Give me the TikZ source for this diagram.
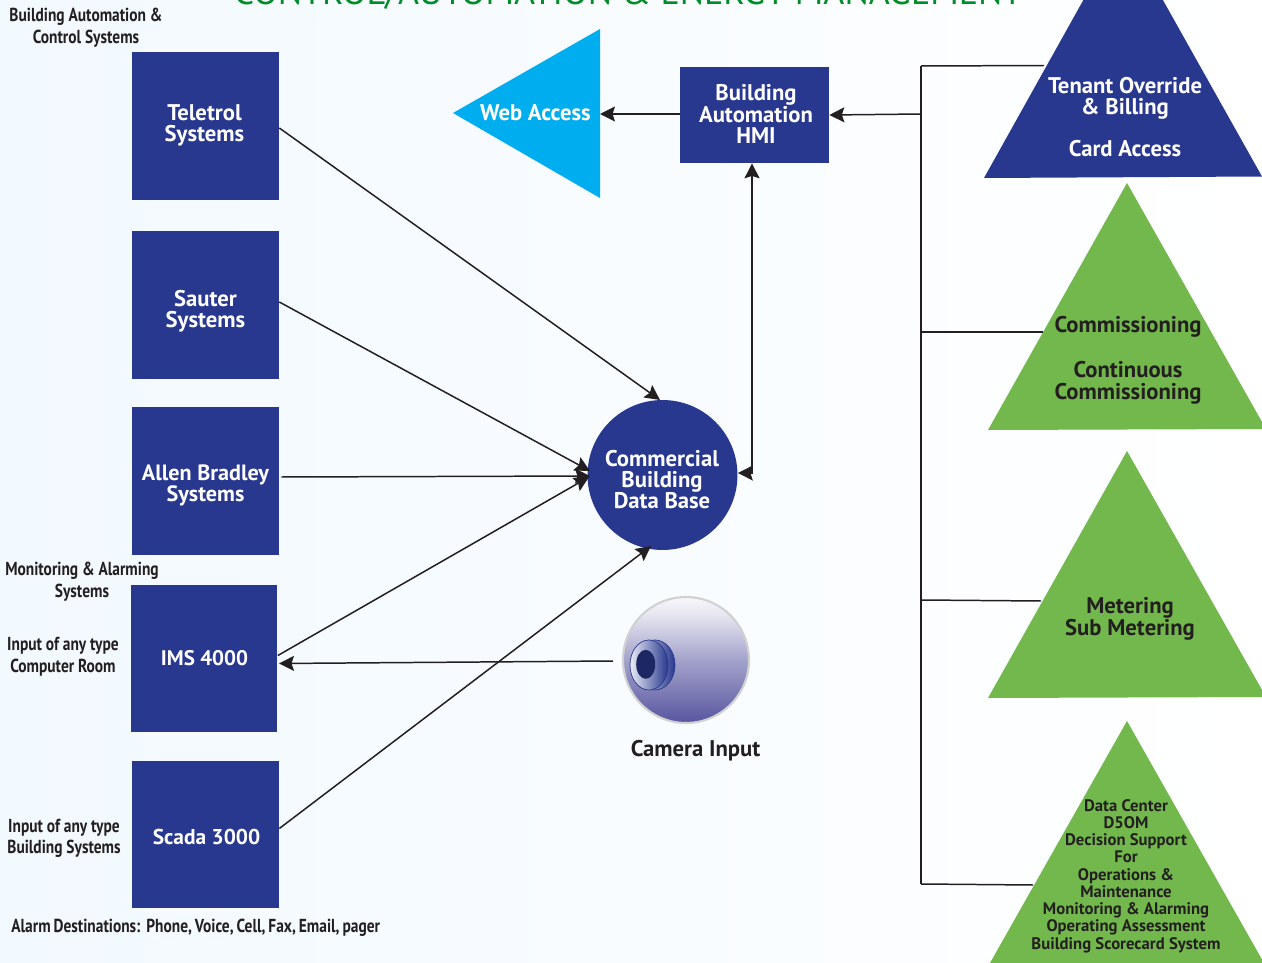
\documentclass[tikz,border=0pt]{standalone}
\usepackage{fontspec}
\setmainfont{PT Sans}
\newfontfamily\condfont[FakeStretch=0.82]{PT Sans}
\usetikzlibrary{arrows.meta, calc}

\definecolor{navy}{RGB}{41,56,143}
\definecolor{leaf}{RGB}{114,184,76}
\definecolor{sky}{RGB}{0,174,239}
\definecolor{ink}{RGB}{35,31,32}
\definecolor{titlegreen}{RGB}{0,140,40}
\definecolor{camblue}{RGB}{88,86,160}
\definecolor{paleblue}{RGB}{242,249,255}

\pgfdeclareverticalshading{camshade}{100bp}{
  color(0bp)=(camblue); color(25bp)=(camblue); color(50bp)=(camblue!55!white);
  color(68bp)=(camblue!15!white); color(78bp)=(white); color(100bp)=(white)}

\tikzset{
  sysbox/.style={fill=navy, minimum width=2.94cm, minimum height=2.96cm, inner sep=0pt},
  whitetext/.style={text=white, font=\bfseries\fontsize{12.9}{12}\selectfont, align=center, inner sep=0pt},
  darktext/.style={text=ink, font=\bfseries\fontsize{12.9}{12.4}\selectfont, align=center, inner sep=0pt},
  smalltext/.style={text=ink, font=\bfseries\fontsize{9.5}{9.8}\selectfont, align=center, inner sep=0pt},
  sidenote/.style={text=ink, font=\condfont\bfseries\fontsize{10.7}{12.3}\selectfont, align=center, inner sep=0pt},
  link/.style={draw=ink, line width=0.85pt},
  >={Stealth[length=3mm,width=3mm,inset=0.5mm]}
}

\begin{document}
\begin{tikzpicture}[x=0.02cm, y=-0.02cm]

        \clip (0,0) rectangle (1262,963);
        \shade[shading angle=45, left color=paleblue, right color=white] (0,963) rectangle (1262,0);

        % TITLE
        \node[text=titlegreen, font=\fontsize{20.5}{20}\selectfont, inner sep=0pt, anchor=base] (title) at (628,5) {CONTROL/AUTOMATION \& ENERGY MANAGEMENT};

        % SYSTEMS
        \node[sysbox] (teletrol) at (205.5,126) {};
        \node[whitetext] (teletroltext) at (204.5,125) {Teletrol\\Systems};
        \node[sysbox] (sauter) at (205.5,305) {};
        \node[whitetext] (sautertext) at (205.5,311.5) {Sauter\\Systems};
        \node[sysbox] (allen) at (205.5,481) {};
        \node[whitetext, font=\bfseries\fontsize{12.6}{12}\selectfont] (allentext) at (205.5,485) {Allen Bradley\\Systems};
        \node[sysbox] (ims) at (204,658.5) {};
        \node[whitetext, font=\bfseries\fontsize{12}{12}\selectfont] (imstext) at (204.5,658.5) {IMS 4000};
        \node[sysbox] (scada) at (205.5,834.5) {};
        \node[whitetext, font=\bfseries\fontsize{12.2}{12}\selectfont] (scadatext) at (206.5,836.5) {Scada 3000};

        % NOTES
        \node[sidenote] (batext) at (86,28) {Building Automation \&\\Control Systems};
        \node[sidenote] (montext) at (82,581.5) {Monitoring \& Alarming\\Systems};
        \node[sidenote] (roomtext) at (63,657) {Input of any type\\Computer Room};
        \node[sidenote] (bldgtext) at (64,838.5) {Input of any type\\Building Systems};
        \node[sidenote, anchor=west] (alarmtext) at (11,928) {\spaceskip=1.7pt Alarm Destinations:\ \ Phone, Voice, Cell, Fax, Email, pager};

        % DATA BASE
        \node[circle, fill=navy, minimum size=3cm, inner sep=0pt] (db) at (662.5,475) {};
        \node[whitetext] (dbtext) at (662,479.5) {Commercial\\Building\\Data Base};

        % HMI
        \node[fill=navy, minimum width=2.98cm, minimum height=1.92cm, inner sep=0pt] (hmi) at (754.5,115) {};
        \node[whitetext] (hmitext) at (756,114) {Building\\Automation\\HMI};

        % WEB
        \fill[sky] (453,113) -- (600,29) -- (600,198) -- cycle;
        \node[whitetext] (webtext) at (535.5,113) {Web Access};
        \coordinate (webport) at (600,114);

        % TENANT
        \fill[navy] (984,178) -- (1123,-71) -- (1262,176.5) -- cycle;
        \node[whitetext] (tenanttext) at (1125,117) {Tenant Override\\\& Billing\\[12pt]Card Access};

        % COMMISSIONING
        \fill[leaf] (988,430) -- (1127,183) -- (1266,429) -- cycle;
        \node[darktext] (commtext) at (1128,360) {Commissioning\\[13.5pt]Continuous\\Commissioning};

        % METERING
        \fill[leaf] (988,698) -- (1127,451) -- (1266,697) -- cycle;
        \node[darktext] (metertext) at (1130,619) {Metering\\Sub Metering};

        % DATA CENTER
        \fill[leaf] (990,963) -- (1127,721) -- (1264,963) -- cycle;
        \node[smalltext] (dctext) at (1126,876) {Data Center\\D5OM\\Decision Support\\For\\Operations \&\\Maintenance\\Monitoring \& Alarming\\Operating Assessment\\Building Scorecard System};

        % CAMERA
        \node[circle, draw=black!18, line width=1.2pt, shading=camshade, minimum size=2.52cm, inner sep=0pt] (camera) at (686,660) {};
        \shade[shading angle=300, left color=navy!15!white, right color=navy, draw=navy, line width=0.4pt] (655,665) ellipse (20 and 25);
        \shade[shading angle=320, left color=navy!10!white, right color=navy, draw=navy, line width=0.4pt] (649,665) ellipse (19 and 25);
        \fill[navy!70!black] (645.7,664.3) ellipse (9.5 and 14.5);
        \node[text=ink, font=\bfseries\fontsize{12.9}{12}\selectfont, inner sep=0pt] (camtext) at (695.5,751) {Camera Input};

        % LINKS
        \coordinate (dbleft) at (590,476);
        \coordinate (dbtop) at (660,400);
        \coordinate (dbcorner) at (651,546);
        \draw[link, ->] ($(teletrol.east) + (0,2)$) -- (dbtop);
        \draw[link, ->] ($(sauter.east) + (0,-3)$) -- ($(dbleft) + (0,-5)$);
        \draw[link, ->] ($(allen.east) + (2,-4)$) -- (dbleft);
        \draw[link, ->] ($(ims.east) + (0,-3)$) -- ($(dbleft) + (-1,1)$);
        \draw[link, ->] ($(scada.east) + (0,-6)$) -- (dbcorner);

        \coordinate (camport) at (613,661);
        \coordinate (imsport) at (279,663.5);
        \draw[link, ->] (camport) -- (imsport);

        \draw[link, <->] (hmi.south -| 752,0) -- (752,473) -- (db.east |- 0,473);
        \draw[link, ->] ($(hmi.west) + (0,-1)$) -- (webport);

        % BUS
        \coordinate (bustop) at (921,66);
        \coordinate (busbottom) at (921,884);
        \draw[link] (bustop) -- (busbottom);
        \draw[link, ->] (921,114) -- (hmi.east);
        \coordinate (tenantport) at (1044,65.5);
        \coordinate (commport) at (1043,332);
        \coordinate (meterport) at (1041,601);
        \coordinate (dcport) at (1033,885);
        \draw[link] (bustop) -- (tenantport);
        \draw[link] (921,332) -- (commport);
        \draw[link] (921,600) -- (meterport);
        \draw[link] (busbottom) -- (dcport);

    \end{tikzpicture}
\end{document}
